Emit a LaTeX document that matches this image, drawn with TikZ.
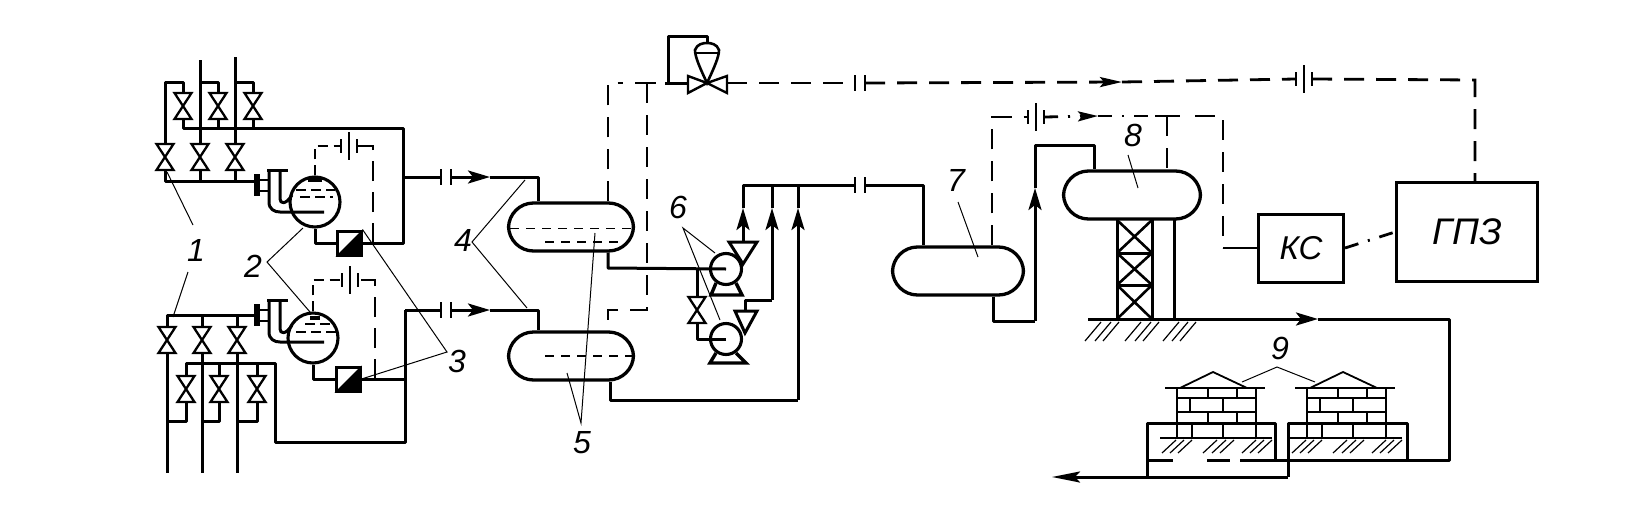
\documentclass[tikz,border=0pt]{standalone}
\usepackage{fontspec}
\setmainfont{Liberation Sans}
\usetikzlibrary{arrows.meta, positioning}
\tikzset{
    >={Stealth[length=22pt,width=13pt,inset=5pt]}, % long thin heads
    pipe/.style={line width=3pt, line join=round},
    ctrl/.style={line width=2.8pt, dash pattern=on 20pt off 12pt},
    ctrlsolid/.style={line width=2.8pt},
    dashdot/.style={line width=2.8pt, dash pattern=on 14pt off 10pt on 2pt off 10pt},
    lead/.style={line width=1pt},
    liquid/.style={line width=1pt, dash pattern=on 9pt off 7pt},
    hatch/.style={line width=1.2pt},
    vessel/.style={draw, line width=3.3pt, rounded corners=25pt, minimum width=125pt, minimum height=48pt, inner sep=0pt},
    drum/.style={circle, draw, line width=3.1pt, minimum size=50pt, inner sep=0pt},
    pumpc/.style={circle, draw, line width=3.1pt, minimum size=31pt, inner sep=0pt},
    sepbox/.style={draw, line width=3pt, minimum size=24pt, inner sep=0pt},
    unit/.style={draw, line width=3pt, inner sep=0pt, font=\fontsize{33}{33}\selectfont\itshape},
    lbl/.style={inner sep=0pt, font=\fontsize{32}{32}\selectfont\itshape},
    vvalve/.pic={
        \draw[line width=2.3pt, fill=white] (-8.5,-13) -- (8.5,-13) -- (-8.5,13) -- (8.5,13) -- cycle;
        \coordinate (-t) at (0,-13);
        \coordinate (-b) at (0,13);
    },
    gapmark/.pic={ % flange pair in a pipe
        \draw[line width=2.4pt] (-5,-8) -- (-5,8) (5,-8) -- (5,8);
        \coordinate (-l) at (-5,0);
        \coordinate (-r) at (5,0);
    },
    barmark/.pic={ % flange with long middle bar in a control line
        \draw[line width=2.4pt] (-8,-7) -- (-8,7) (8,-7) -- (8,7);
        \draw[line width=1.8pt] (0,-14) -- (0,14);
        \coordinate (-l) at (-8,0);
        \coordinate (-r) at (8,0);
    },
    tubein/.pic={ % bent inlet of a separator
        \draw[line width=6pt] (-9,-11) -- (-9,11);
        \draw[line width=2.4pt] (-9,-5) -- (2,-5) (-9,6) -- (2,6);
        \draw[pipe] (1,-15) -- (22,-15);
        \draw[pipe] (3,-15) -- (3,17) .. controls (3,24) and (8,27) .. (14,27) -- (58,27);
        \draw[pipe] (14,-15) -- (14,14) .. controls (14,19) and (20,20) .. (26,10);
    },
    tank/.pic={ % brick store
        \draw[line width=2.6pt] (-12,0) -- (88,0);
        \draw[line width=1.8pt] (3,0) -- (36,-16) -- (70,0);
        \draw[line width=2.6pt] (0,0) -- (0,50) (79,0) -- (79,50);
        \draw[line width=2.2pt] (0,10) -- (79,10) (0,24) -- (79,24) (0,35) -- (79,35);
        \draw[line width=2.2pt] (31,0) -- (31,10) (60,0) -- (60,10)
            (13,10) -- (13,24) (46,10) -- (46,24)
            (31,24) -- (31,35) (60,24) -- (60,35)
            (15,35) -- (15,50) (46,35) -- (46,50);
        \draw[line width=2.6pt] (-17,50) -- (95,50);
        \foreach \hx in {-15,-7,1, 26,35,43, 65,73,81}
            \draw[hatch] (\hx,65) -- (\hx+14,52);
    },
}

\begin{document}
\begin{tikzpicture}[x=1pt, y=-1pt]
    \useasboundingbox (0,0) rectangle (1643,517);

    % valves of the two manifolds
    \pic (v1) at (165,157) {vvalve};
    \pic (v2) at (200,157) {vvalve};
    \pic (v3) at (235,157) {vvalve};
    \pic (v4) at (183,106) {vvalve};
    \pic (v5) at (218,106) {vvalve};
    \pic (v6) at (253,106) {vvalve};
    \pic (v7) at (167,340) {vvalve};
    \pic (v8) at (202,340) {vvalve};
    \pic (v9) at (237,340) {vvalve};
    \pic (v10) at (186,389) {vvalve};
    \pic (v11) at (219,389) {vvalve};
    \pic (v12) at (257,389) {vvalve};

    \node[drum] (sepA) at (315,202) {};
    \node[drum] (sepB) at (313,338) {};
    \node[sepbox] (boxA) at (349,243) {};
    \node[sepbox] (boxB) at (348,379) {};
    \fill (boxA.north east) -- (boxA.south east) -- (boxA.south west) -- cycle;
    \fill (boxB.north east) -- (boxB.south east) -- (boxB.south west) -- cycle;
    \pic at (266,185) {tubein};
    \pic at (266,315) {tubein};

    \node[vessel] (ves4) at (571,227) {};
    \node[vessel] (ves5) at (571,356) {};
    \node[vessel, minimum width=131pt] (ves7) at (958,271) {};
    \node[vessel, minimum width=137pt] (ves8) at (1132,195) {};
    \node[pumpc] (pump1) at (726,269) {};
    \node[pumpc] (pump2) at (726,339) {};
    \node[unit, minimum width=85pt, minimum height=68pt] (ks) at (1301,248) {КС};
    \node[unit, minimum width=141pt, minimum height=99pt, font=\fontsize{37}{37}\selectfont\itshape] (gpz) at (1467,232) {ГПЗ};

    % upper manifold
    \coordinate (a1) at (200,60);
    \coordinate (a2) at (235,57);
    \coordinate (a3) at (165,82);
    \coordinate (a4) at (403,128);
    \coordinate (a5) at (403,243);
    \coordinate (a6) at (165,181);
    \coordinate (a7) at (258,181);
    \coordinate (a8) at (183,128);
    \draw[pipe] (a1) -- (v2-t) (a2) -- (v3-t);
    \draw[pipe] (v1-t) -- (a3) -- (v4-t |- a3) -- (v4-t);
    \draw[pipe] (a1 |- a3) -- (v5-t |- a3) -- (v5-t);
    \draw[pipe] (a2 |- a3) -- (v6-t |- a3) -- (v6-t);
    \draw[pipe] (v4-b) -- (a8) -- (a4) -- (a5) -- (boxA.east);
    \draw[pipe] (v5-b) -- (v5-b |- a8) (v6-b) -- (v6-b |- a8);
    \draw[pipe] (v1-b) -- (a6) -- (a7);
    \draw[pipe] (v2-b) -- (v2-b |- a6) (v3-b) -- (v3-b |- a6);
    \draw[pipe] (sepA.south) -- (sepA.south |- boxA.west) -- (boxA.west);

    % lower manifold
    \coordinate (b1) at (167,473);
    \coordinate (b2) at (202,473);
    \coordinate (b3) at (237,473);
    \coordinate (b4) at (167,315);
    \coordinate (b5) at (258,315);
    \coordinate (b6) at (186,363);
    \coordinate (b7) at (275,363);
    \coordinate (b8) at (275,442);
    \coordinate (b9) at (405,442);
    \coordinate (b10) at (405,310);
    \draw[pipe] (v7-b) -- (b1) (v8-b) -- (b2) (v9-b) -- (b3);
    \draw[pipe] (b5) -- (b4) -- (v7-t);
    \draw[pipe] (v8-t) -- (v8-t |- b4) (v9-t) -- (v9-t |- b4);
    \draw[pipe] (v10-t) -- (b6) -- (b7) -- (b8) -- (b9) -- (b10);
    \draw[pipe] (v11-t) -- (v11-t |- b6) (v12-t) -- (v12-t |- b6);
    \draw[pipe] (v10-b) -- ++(0,19) -- ++(-19,0);
    \draw[pipe] (v11-b) -- ++(0,19) -- ++(-17,0);
    \draw[pipe] (v12-b) -- ++(0,19) -- ++(-20,0);
    \draw[pipe] (sepB.south) -- (sepB.south |- boxB.west) -- (boxB.west);
    \draw[pipe] (boxB.east) -- (b9 |- boxB.east);

    % separator level lines
    \draw[line width=1.5pt, dash pattern=on 10pt off 5pt] (296,190) -- (335,190) (300,197) -- (333,197);
    \draw[line width=3.5pt] (308,180) -- (322,180) (310,318) -- (320,318);
    \draw[line width=1.5pt, dash pattern=on 10pt off 5pt] (296,332) -- (336,332) (305,324) -- (330,324);

    % control loops at the separators
    \pic (m1) at (349,146) {barmark};
    \pic (m2) at (350,280) {barmark};
    \coordinate (c1) at (315,146);
    \coordinate (c2) at (373,146);
    \coordinate (c3) at (373,243);
    \coordinate (c4) at (313,280);
    \coordinate (c5) at (375,280);
    \coordinate (c6) at (375,379);
    \draw[ctrl, dash pattern=on 10pt off 6pt] (sepA.north) -- (c1) -- (m1-l);
    \draw[ctrl, dash pattern=on 20pt off 11pt] (c3) -- (c2) -- (m1-r);
    \draw[ctrl, dash pattern=on 10pt off 6pt] (sepB.north) -- (c4) -- (m2-l);
    \draw[ctrl, dash pattern=on 20pt off 11pt] (c6) -- (c5) -- (m2-r);

    % feed to the vessels
    \pic (g1) at (446,177) {gapmark};
    \pic (g2) at (446,310) {gapmark};
    \coordinate (d1) at (490,177);
    \coordinate (d2) at (538,177);
    \coordinate (d3) at (490,310);
    \coordinate (d4) at (538,310);
    \draw[pipe] (a4 |- g1-l) -- (g1-l);
    \draw[pipe, ->] (g1-r) -- (d1);
    \draw[pipe] (d1) -- (d2) -- (d2 |- ves4.north);
    \draw[pipe] (b10) -- (g2-l);
    \draw[pipe, ->] (g2-r) -- (d3);
    \draw[pipe] (d3) -- (d4) -- (d4 |- ves5.north);
    \draw[liquid] (510,228) -- (632,228);
    \draw[liquid, line width=1.8pt] (545,242) -- (625,242);
    \draw[liquid, line width=1.8pt] (545,356) -- (632,356);

    % pumps
    \pic (v13) at (697,310) {vvalve};
    \draw[line width=3pt, fill=white] (729,242) -- (757,242) -- (743,264) -- cycle;
    \draw[line width=3pt, fill=white] (735,311) -- (757,311) -- (745,333) -- cycle;
    \draw[line width=3.4pt] (716,283) -- (711,295) -- (742,295) -- (736,283);
    \draw[line width=3.4pt] (716,353) -- (710,363) -- (746,363) -- (736,353);
    \coordinate (e1) at (608,268);
    \coordinate (e2) at (743,185);
    \coordinate (e3) at (855,185);
    \coordinate (e4) at (745,300);
    \coordinate (e5) at (772,300);
    \coordinate (e6) at (610,400);
    \coordinate (e7) at (798,400);
    \coordinate (e8) at (743,208);
    \coordinate (e9) at (772,208);
    \coordinate (e10) at (798,208);
    \coordinate (e11) at (697,339);
    \draw[pipe] (e1 |- ves4.south) -- (e1) -- (pump1.center);
    \draw[pipe] (pump2.center) -- (e11) -- (v13-b);
    \draw[pipe] (v13-t) -- (v13-t |- e1);
    \draw[pipe, ->] (743,242) -- (e8);
    \draw[pipe] (e8) -- (e2) -- (e3);
    \draw[pipe] (745,311) -- (e4) -- (e5);
    \draw[pipe, ->] (e5) -- (e9);
    \draw[pipe] (e9) -- (e5 |- e2);
    \draw[pipe] (e6 |- ves5.south) -- (e6) -- (e7);
    \draw[pipe, ->] (e7) -- (e10);
    \draw[pipe] (e10) -- (e7 |- e2);

    % gas line to vessels 7 and 8
    \pic (g3) at (860,185) {gapmark};
    \coordinate (f1) at (923,185);
    \coordinate (f2) at (993,321);
    \coordinate (f3) at (1035,321);
    \coordinate (f4) at (1035,188);
    \coordinate (f5) at (1035,145);
    \coordinate (f6) at (1094,145);
    \draw[pipe] (g3-r) -- (f1) -- (f1 |- ves7.north);
    \draw[pipe] (f2 |- ves7.south) -- (f2) -- (f3);
    \draw[pipe, ->] (f3) -- (f4);
    \draw[pipe] (f4) -- (f5) -- (f6) -- (f6 |- ves8.north);

    % upper dashed lines
    \coordinate (h1) at (608,83);
    \coordinate (h2) at (647,83);
    \coordinate (h3) at (608,310);
    \coordinate (h4) at (647,310);
    \draw[ctrl] (h1 |- ves4.north) -- (h1) -- (623,83);
    \draw[ctrlsolid] (635,83) -- (656,83);
    \draw[ctrl] (h2) -- (h4) -- (h3) -- (h3 |- ves5.north);

    % regulator
    \coordinate (k0) at (707,83);
    \coordinate (k1) at (668,83);
    \coordinate (k2) at (668,36);
    \coordinate (k3) at (707,36);
    \draw[line width=2.4pt, fill=white] (k0) -- (688,76) -- (688,93) -- cycle;
    \draw[line width=2.4pt, fill=white] (k0) -- (727,76) -- (727,93) -- cycle;
    \draw[line width=2.6pt, fill=white] (695,50) .. controls (697,44) and (703,43) .. (707,43)
        .. controls (711,43) and (717,44) .. (719,50) .. controls (719,57) and (714,68) .. (k0)
        .. controls (700,68) and (695,57) .. cycle;
    \draw[line width=2.4pt] (696,53) -- (718,53);
    \draw[pipe] (688,83) -- (665,83);
    \draw[pipe] (k1) -- (k2) -- (k3) -- (707,43);

    % long signal line
    \pic (m3) at (860,83) {gapmark};
    \pic (m4) at (1304,79) {barmark};
    \coordinate (n1) at (1122,82);
    \coordinate (n2) at (1475,80);
    \draw[ctrl] (727,83) -- (m3-l);
    \draw[ctrl, -{Stealth[length=22pt,width=10pt,inset=4pt]}] (m3-r) -- (n1);
    \draw[ctrl] (n1) -- (m4-l);
    \draw[ctrl] (m4-r) -- (n2) -- (n2 |- gpz.north);

    % signal line over vessels 7 and 8
    \pic (m5) at (1036,117) {barmark};
    \coordinate (p1) at (992,117);
    \coordinate (p2) at (1098,116);
    \coordinate (p3) at (1167,116);
    \coordinate (p4) at (1223,116);
    \coordinate (p5) at (1223,248);
    \draw[ctrl] (p1 |- ves7.north) -- (p1) -- (m5-l);
    \draw[dashdot, -{Stealth[length=20pt,width=10pt,inset=4pt]}] (m5-r) -- (p2);
    \draw[dashdot] (p2) -- (p3);
    \draw[ctrlsolid] (1155,116) -- (1180,116);
    \draw[ctrl] (p3) -- (p3 |- ves8.north);
    \draw[ctrl] (1195,116) -- (p4) -- (p5);
    \draw[ctrlsolid] (p5) -- (ks.west);
    \draw[dashdot] (ks.east) -- (gpz.west);

    % tower of vessel 8
    \coordinate (t1) at (1117,220);
    \coordinate (t2) at (1152,220);
    \coordinate (t3) at (1117,319);
    \coordinate (t4) at (1152,319);
    \draw[pipe] (t1) -- (t3) (t2) -- (t4) (1174,220) -- (1174,319);
    \draw[pipe] (t1 |- 0,253) -- (t2 |- 0,253) (t1 |- 0,285) -- (t2 |- 0,285);
    \draw[line width=2.6pt] (t1) -- (1152,253) (t2) -- (1117,253)
        (1117,253) -- (1152,285) (1152,253) -- (1117,285)
        (1117,285) -- (t4) (1152,285) -- (t3);

    % ground and product line
    \coordinate (q1) at (1088,319);
    \coordinate (q2) at (1318,319);
    \coordinate (q3) at (1449,319);
    \coordinate (q4) at (1449,460);
    \coordinate (q5) at (1288,460);
    \draw[pipe, ->] (q1) -- (q2);
    \draw[pipe] (q2) -- (q3) -- (q4) -- (q5);
    \foreach \hx in {1085,1095,1103, 1125,1135,1143, 1163,1172,1180}
        \draw[hatch] (\hx,341) -- (\hx+16,322);

    % stores
    \pic at (1177,388) {tank};
    \pic at (1307,388) {tank};
    \coordinate (r1) at (1147,423);
    \coordinate (r2) at (1275,423);
    \coordinate (r3) at (1275,460);
    \coordinate (r4) at (1147,477);
    \coordinate (r5) at (1288,477);
    \coordinate (r6) at (1288,423);
    \coordinate (r7) at (1407,423);
    \coordinate (r8) at (1407,460);
    \coordinate (r9) at (1052,477);
    \draw[pipe] (r3) -- (r2) -- (r1) -- (r4);
    \draw[pipe] (r5) -- (r6) -- (r7) -- (r8);
    \draw[pipe, {Stealth[length=28pt,width=11pt,inset=5pt]}-] (r9) -- (r5);
    \draw[pipe] (r1 |- r3) -- (1173,460) (1207,460) -- (1230,460) (1240,460) -- (r5 |- r3);

    % labels and leaders
    \node[lbl] (l1) at (196,250) {1};
    \node[lbl] (l2) at (253,266) {2};
    \node[lbl] (l3) at (457,361) {3};
    \node[lbl] (l4) at (463,240) {4};
    \node[lbl] (l5) at (582,443) {5};
    \node[lbl] (l6) at (678,207) {6};
    \node[lbl] (l7) at (956,180) {7};
    \node[lbl] (l8) at (1133,135) {8};
    \node[lbl] (l9) at (1280,348) {9};
    \draw[lead] (167,172) -- (193,225);
    \draw[lead] (188,272) -- (173,317);
    \draw[lead] (303,228) -- (267,262) -- (310,312);
    \draw[lead] (boxA.north east) -- (447,352) -- (boxB.east);
    \draw[lead] (525,180) -- (472,242) -- (527,308);
    \draw[lead] (595,233) -- (581,423) -- (567,373);
    \draw[lead] (715,253) -- (683,228) -- (720,320);
    \draw[lead] (958,202) -- (978,257);
    \draw[lead] (1128,155) -- (1138,188);
    \draw[lead] (1242,382) -- (1277,367) -- (1315,382);
\end{tikzpicture}
\end{document}
